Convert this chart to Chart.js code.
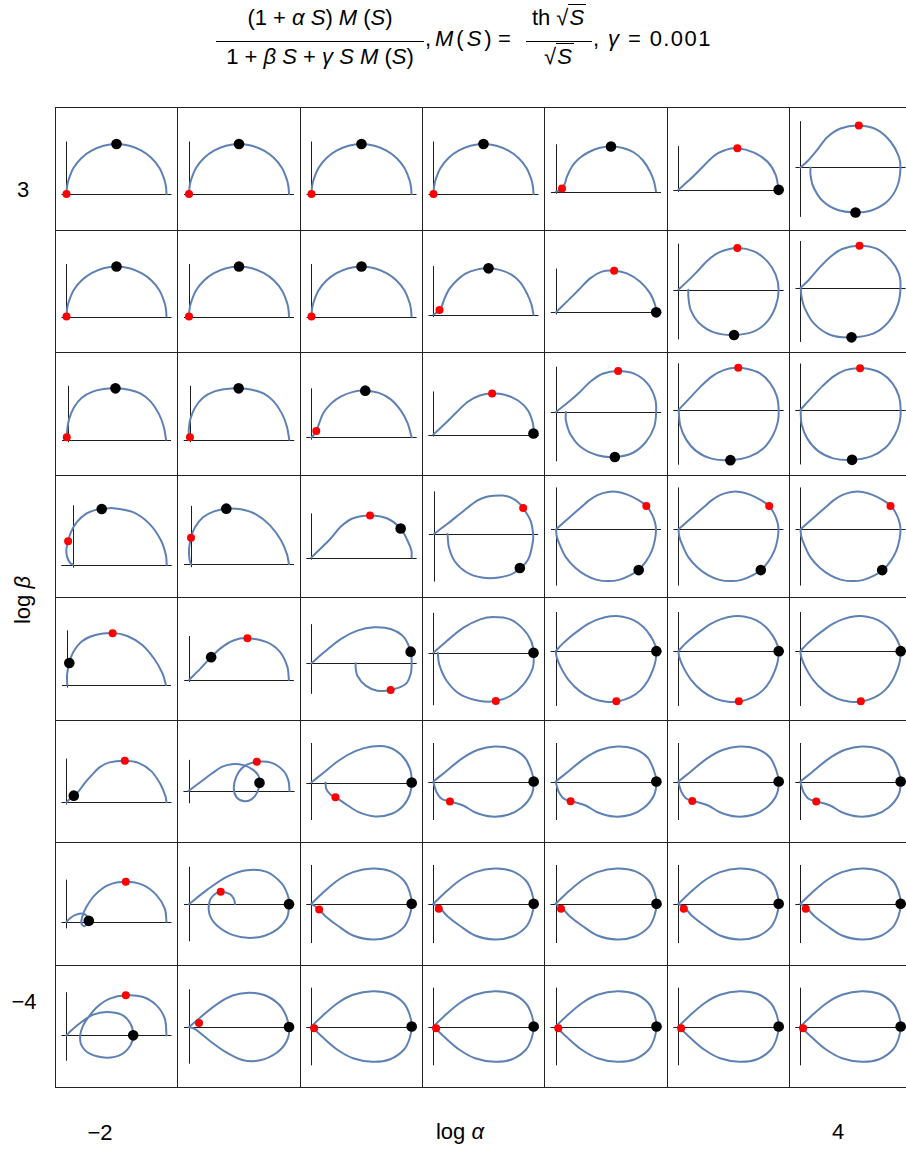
<!DOCTYPE html>
<html>
<head>
<meta charset="utf-8">
<script src="https://cdn.jsdelivr.net/npm/chart.js@4/dist/chart.umd.min.js"></script>
<style>
  html, body { margin: 0; padding: 0; background: #fff; }
  body { position: relative; width: 906px; height: 1150px; overflow: hidden;
         font-family: "Liberation Sans", Arial, sans-serif; color: #000; }
  .cell { position: absolute; box-sizing: border-box; border: 1px solid #222; }
  .cell canvas { position: absolute; left: 0; top: 0; }
  .lbl { position: absolute; font-size: 22px; line-height: 24px; white-space: nowrap;
         transform: translate(-50%, -50%); }
  .frac { position: absolute; top: 0; height: 80px; }
  .frac .num, .frac .den { position: absolute; left: 0; width: 100%; text-align: center;
         font-size: 22px; line-height: 24px; white-space: nowrap; }
  .frac .num { top: 6px; }
  .frac .den { top: 45px; }
  .frac .bar { position: absolute; left: 0; width: 100%; top: 41px; height: 1.4px; background: #000; }
  .txt { position: absolute; top: 27px; font-size: 22px; line-height: 24px; white-space: nowrap; }
  .ov { border-top: 1.4px solid #000; padding: 0 2px 0 1px; }
  i { font-style: italic; }
</style>
</head>
<body>

<div class="frac" style="left:216px;width:208px;">
  <div class="num">(1 + <i>α</i> <i>S</i>) <i>M</i> (<i>S</i>)</div>
  <div class="bar"></div>
  <div class="den">1 + <i>β</i> <i>S</i> + <i>γ</i> <i>S</i> <i>M</i> (<i>S</i>)</div>
</div>
<div class="txt" style="left:425px;">,</div>
<div class="txt" style="left:435px;letter-spacing:3px;"><i>M</i>(<i>S</i>)</div>
<div class="txt" style="left:498px;">=</div>
<div class="frac" style="left:526px;width:66px;">
  <div class="num">th √<span class="ov"><i>S</i></span></div>
  <div class="bar"></div>
  <div class="den">√<span class="ov"><i>S</i></span></div>
</div>
<div class="txt" id="gammaText" style="left:593px;letter-spacing:1.4px;"></div>

<script>
// Columns: log α = -2 … 4, rows: log β = 3 … -4, γ fixed.
const logAlpha = [-2, -1, 0, 1, 2, 3, 4];
const logBeta  = [3, 2, 1, 0, -1, -2, -3, -4];
const gammaLabel = '0.001';
const xTickLabels = ['−2', '4'];   // first and last column
const yTickLabels = ['3', '−4'];   // first and last row
const xAxisTitle = 'log α';
const yAxisTitle = 'log β';

// Each curve: [Re, Im] samples of the frequency response, in the plot's own units.
const halfDisc = [[0,0],[0.005,0.07],[0.02,0.14],[0.07,0.26],[0.15,0.36],[0.25,0.433],[0.37,0.483],[0.5,0.5],
  [0.63,0.483],[0.75,0.433],[0.85,0.36],[0.93,0.26],[0.98,0.14],[0.995,0.07],[1,0]];
const curveR0C4 = [[0,0],[0.035,0.01],[0.06,0.03],[0.085,0.07],[0.11,0.15],[0.16,0.25],[0.23,0.33],
  [0.32,0.39],[0.43,0.435],[0.55,0.45],[0.67,0.435],[0.78,0.39],[0.87,0.31],[0.94,0.2],[0.98,0.1],[1.0,0]];
const curveR0C5 = [[0,0],[0.123,0.11],[0.257,0.243],[0.357,0.34],[0.457,0.393],[0.59,0.417],
  [0.757,0.373],[0.89,0.283],[0.973,0.15],[1.003,0]];
const curveR0C6 = [[0.1,0],[0.1,-0.073],[0.127,-0.19],[0.217,-0.33],[0.367,-0.423],[0.55,-0.45],
  [0.7,-0.433],[0.867,-0.34],[0.967,-0.19],[1.0,-0.007],[0.983,0.11],[0.9,0.26],[0.767,0.377],
  [0.583,0.42],[0.4,0.39],[0.267,0.303],[0.167,0.177],[0.067,0.06],[0,0]];
const curveR1C3 = [[0,0],[0.03,0.02],[0.06,0.047],[0.085,0.09],[0.11,0.16],[0.16,0.26],[0.23,0.34],
  [0.32,0.41],[0.43,0.45],[0.55,0.463],[0.67,0.445],[0.78,0.4],[0.87,0.32],[0.94,0.2],[0.98,0.1],[1.0,0]];
const curveR1C4 = [[0,0],[0.11,0.107],[0.227,0.223],[0.343,0.34],[0.46,0.407],[0.583,0.417],
  [0.71,0.39],[0.843,0.307],[0.943,0.19],[0.993,0.073],[1.003,0]];
const curveR1C5 = [[0.1,0],[0.1,-0.067],[0.123,-0.2],[0.207,-0.333],[0.357,-0.427],[0.557,-0.453],
  [0.757,-0.417],[0.89,-0.317],[0.973,-0.167],[1.003,0],[0.973,0.15],[0.89,0.283],[0.757,0.383],
  [0.59,0.417],[0.407,0.373],[0.29,0.29],[0.19,0.183],[0.09,0.083],[0,0]];
const curveR1C6 = [[0.003,0],[0.01,-0.09],[0.043,-0.207],[0.133,-0.357],[0.3,-0.473],[0.51,-0.497],
  [0.733,-0.457],[0.883,-0.34],[0.973,-0.173],[1.0,0],[0.983,0.143],[0.9,0.277],[0.767,0.387],
  [0.59,0.42],[0.417,0.387],[0.3,0.31],[0.183,0.193],[0.083,0.077],[0,0]];
const curveR2C0 = [[0,0],[-0.008,0.05],[-0.003,0.12],[0.015,0.21],[0.06,0.32],[0.14,0.42],[0.25,0.48],
  [0.36,0.506],[0.48,0.513],[0.61,0.5],[0.73,0.46],[0.83,0.38],[0.91,0.26],[0.96,0.13],[0.983,0]];
const curveR2C1 = [[0,0],[-0.012,0.05],[-0.01,0.12],[0.005,0.21],[0.05,0.32],[0.13,0.42],[0.24,0.48],
  [0.36,0.506],[0.487,0.513],[0.62,0.5],[0.74,0.46],[0.84,0.38],[0.92,0.26],[0.97,0.13],[0.993,0]];
const curveR2C2 = [[0,0],[0.02,0.02],[0.05,0.063],[0.075,0.13],[0.12,0.24],[0.2,0.34],[0.3,0.41],
  [0.42,0.455],[0.543,0.467],[0.68,0.445],[0.8,0.38],[0.9,0.27],[0.97,0.14],[1.01,0]];
const curveR2C3 = [[0,0],[0.117,0.107],[0.233,0.223],[0.35,0.33],[0.467,0.39],[0.59,0.41],
  [0.717,0.397],[0.85,0.34],[0.95,0.24],[1.0,0.107],[1.007,0]];
const curveR2C4 = [[0.1,0],[0.1,-0.083],[0.143,-0.217],[0.25,-0.35],[0.417,-0.433],[0.59,-0.45],
  [0.767,-0.41],[0.9,-0.3],[0.983,-0.15],[1.003,0],[0.993,0.133],[0.917,0.283],[0.783,0.383],
  [0.623,0.41],[0.467,0.383],[0.35,0.307],[0.233,0.193],[0.117,0.093],[0,0]];
const curveR2C5 = [[0.003,0],[0.02,-0.15],[0.08,-0.29],[0.19,-0.41],[0.35,-0.485],[0.55,-0.5],
  [0.75,-0.465],[0.9,-0.38],[1.0,-0.25],[1.05,-0.12],[1.06,0],[1.04,0.14],[0.97,0.27],[0.86,0.37],
  [0.72,0.415],[0.6,0.423],[0.48,0.4],[0.36,0.34],[0.24,0.24],[0.12,0.12],[0,0]];
const curveR2C6 = [[0.003,0],[0.015,-0.15],[0.075,-0.29],[0.185,-0.41],[0.345,-0.485],[0.543,-0.5],
  [0.743,-0.465],[0.893,-0.38],[0.993,-0.25],[1.043,-0.12],[1.053,0],[1.033,0.14],[0.963,0.27],
  [0.853,0.365],[0.713,0.41],[0.593,0.417],[0.473,0.397],[0.353,0.337],[0.233,0.237],[0.113,0.117],[0,0]];
const curveR3C0 = [[0,0],[-0.03,0.02],[-0.06,0.08],[-0.068,0.15],[-0.05,0.237],[-0.02,0.33],
  [0.04,0.43],[0.13,0.51],[0.23,0.55],[0.29,0.558],[0.407,0.567],[0.607,0.527],[0.773,0.41],
  [0.89,0.243],[0.94,0.093],[0.947,0]];
const curveR3C1 = [[0,0],[-0.015,0.05],[-0.02,0.15],[0,0.267],[0.04,0.37],[0.12,0.47],[0.23,0.53],
  [0.353,0.557],[0.5,0.55],[0.65,0.5],[0.79,0.39],[0.9,0.24],[0.96,0.1],[0.98,0]];
const curveR3C2 = [[0,0],[0.093,0.09],[0.193,0.19],[0.293,0.307],[0.41,0.39],[0.587,0.42],
  [0.76,0.39],[0.893,0.29],[0.96,0.173],[1.0,0.073],[1.003,0]];
const curveR3C3 = [[0.137,0],[0.15,-0.13],[0.21,-0.275],[0.33,-0.385],[0.48,-0.435],[0.65,-0.435],
  [0.8,-0.39],[0.94,-0.26],[0.99,-0.08],[0.993,0],[0.967,0.133],[0.893,0.26],[0.84,0.32],
  [0.767,0.367],[0.69,0.385],[0.6,0.383],[0.52,0.37],[0.433,0.333],[0.3,0.233],[0.133,0.1],[0,0]];
const curveR3C5 = [[0,0],[0.008,-0.07],[0.04,-0.16],[0.1,-0.28],[0.19,-0.38],[0.3,-0.46],[0.41,-0.505],
  [0.523,-0.517],[0.63,-0.505],[0.74,-0.46],[0.823,-0.407],[0.9,-0.32],[0.96,-0.21],[0.99,-0.1],[1.0,0],
  [0.99,0.07],[0.96,0.15],[0.907,0.233],[0.82,0.295],[0.72,0.345],[0.62,0.375],[0.52,0.375],
  [0.42,0.345],[0.33,0.29],[0.257,0.227],[0.123,0.11],[0.06,0.055],[0,0]];
const curveR4C0 = [[0,0],[-0.003,0.1],[0.02,0.22],[0.06,0.33],[0.15,0.44],[0.28,0.5],[0.453,0.52],
  [0.6,0.49],[0.75,0.4],[0.87,0.26],[0.95,0.12],[0.987,0]];
const curveR4C1 = [[0,0],[0.11,0.11],[0.22,0.227],[0.32,0.32],[0.443,0.393],[0.583,0.417],
  [0.777,0.377],[0.91,0.277],[0.983,0.127],[0.997,0]];
const curveR4C2 = [[0.443,0],[0.443,-0.04],[0.46,-0.123],[0.543,-0.223],[0.66,-0.273],[0.793,-0.267],
  [0.943,-0.207],[0.993,-0.107],[1.003,0],[0.993,0.117],[0.927,0.26],[0.793,0.343],[0.627,0.36],
  [0.46,0.327],[0.293,0.243],[0.127,0.11],[0,0]];
const curveR4C3 = [[0.043,0],[0.057,-0.117],[0.133,-0.283],[0.267,-0.417],[0.467,-0.483],
  [0.623,-0.483],[0.767,-0.433],[0.9,-0.317],[0.993,-0.15],[1.0,0],[0.977,0.117],[0.9,0.233],
  [0.767,0.333],[0.6,0.357],[0.467,0.333],[0.3,0.25],[0.133,0.117],[0,0]];
const curveR4C5 = [[0,0],[0.01,-0.06],[0.05,-0.16],[0.13,-0.29],[0.24,-0.4],[0.37,-0.475],[0.5,-0.505],
  [0.63,-0.5],[0.75,-0.46],[0.85,-0.39],[0.925,-0.29],[0.975,-0.18],[1.0,-0.09],[1.007,0],
  [0.995,0.06],[0.95,0.15],[0.88,0.24],[0.78,0.31],[0.67,0.345],[0.55,0.348],[0.43,0.32],
  [0.32,0.27],[0.22,0.2],[0.13,0.13],[0.06,0.065],[0,0]];
const curveR5C0 = [[0,0],[0.03,0.03],[0.073,0.067],[0.12,0.11],[0.18,0.19],[0.25,0.27],[0.33,0.35],
  [0.43,0.4],[0.583,0.417],[0.72,0.395],[0.85,0.31],[0.94,0.18],[0.99,0.06],[1.0,0]];
const curveR5C1 = [[0,0],[0.1,0.073],[0.233,0.173],[0.333,0.24],[0.433,0.267],[0.55,0.257],
  [0.65,0.207],[0.7,0.15],[0.71,0.08],[0.69,-0.01],[0.633,-0.083],[0.56,-0.103],[0.483,-0.067],
  [0.453,0.023],[0.477,0.14],[0.55,0.24],[0.683,0.29],[0.833,0.28],[0.95,0.2],[1.0,0.1],[1.01,0]];
const curveR5C2 = [[0.143,0],[0.15,-0.063],[0.193,-0.12],[0.243,-0.147],[0.343,-0.213],
  [0.477,-0.297],[0.643,-0.34],[0.81,-0.313],[0.927,-0.23],[0.993,-0.113],[1.01,0],[0.993,0.137],
  [0.91,0.27],[0.777,0.353],[0.61,0.36],[0.443,0.313],[0.277,0.22],[0.11,0.087],[0,0]];
const curveR5C3 = [[0,0],[0.01,-0.04],[0.033,-0.107],[0.083,-0.173],[0.167,-0.2],[0.3,-0.24],
  [0.417,-0.307],[0.583,-0.35],[0.75,-0.333],[0.883,-0.263],[0.983,-0.14],[1.007,0],[0.983,0.11],
  [0.917,0.243],[0.783,0.327],[0.617,0.35],[0.45,0.317],[0.283,0.227],[0.117,0.093],[0,0]];
const curveR6C0 = [[1.0,0],[0.983,0.133],[0.9,0.267],[0.767,0.367],[0.593,0.4],[0.417,0.367],
  [0.283,0.267],[0.2,0.15],[0.157,0.05],[0.15,-0.017],[0.183,-0.043],[0.223,0.01],[0.207,0.057],
  [0.15,0.083],[0.083,0.067],[0.033,0.033],[0,0]];
const curveR6C1 = [[0,0],[0.177,0.14],[0.377,0.273],[0.577,0.34],[0.777,0.323],[0.927,0.207],
  [0.99,0.083],[1.0,0],[0.977,-0.143],[0.843,-0.277],[0.643,-0.337],[0.443,-0.31],[0.277,-0.21],
  [0.203,-0.093],[0.21,0.04],[0.267,0.107],[0.317,0.123],[0.41,0.1],[0.45,0.05],[0.46,0]];
const curveR6C2 = [[0,0],[0.106,0.1],[0.263,0.233],[0.42,0.317],[0.617,0.353],[0.794,0.327],
  [0.931,0.233],[0.99,0.117],[1.01,0],[0.99,-0.117],[0.931,-0.233],[0.794,-0.327],[0.617,-0.357],
  [0.42,-0.317],[0.263,-0.217],[0.145,-0.127],[0.079,-0.057],[0.028,-0.017],[0,0]];
const curveR7C0 = [[1.0,0],[0.983,0.167],[0.9,0.3],[0.767,0.383],[0.593,0.4],[0.433,0.367],
  [0.317,0.293],[0.227,0.193],[0.167,0.1],[0.137,0],[0.15,-0.1],[0.233,-0.183],[0.4,-0.223],
  [0.55,-0.19],[0.64,-0.1],[0.667,0],[0.64,0.117],[0.55,0.207],[0.4,0.233],[0.267,0.207],
  [0.15,0.133],[0.05,0.05],[0,0]];
const curveR7C1 = [[0,0],[0.11,0.093],[0.277,0.227],[0.443,0.317],[0.61,0.343],[0.777,0.31],
  [0.927,0.193],[1.0,0],[0.977,-0.14],[0.877,-0.257],[0.71,-0.333],[0.543,-0.333],[0.377,-0.257],
  [0.21,-0.14],[0.1,-0.05],[0.05,-0.015],[0,0]];
const curveR7C2 = [[0,0],[0.106,0.1],[0.263,0.233],[0.42,0.317],[0.617,0.353],[0.794,0.327],
  [0.931,0.233],[0.99,0.117],[1.01,0],[0.99,-0.117],[0.931,-0.233],[0.794,-0.327],[0.617,-0.353],
  [0.42,-0.317],[0.263,-0.233],[0.106,-0.1],[0,0]];

// Which curve sits in each cell (rows = log β, columns = log α).
const curveGrid = [
  [halfDisc, halfDisc, halfDisc, halfDisc, curveR0C4, curveR0C5, curveR0C6],
  [halfDisc, halfDisc, halfDisc, curveR1C3, curveR1C4, curveR1C5, curveR1C6],
  [curveR2C0, curveR2C1, curveR2C2, curveR2C3, curveR2C4, curveR2C5, curveR2C6],
  [curveR3C0, curveR3C1, curveR3C2, curveR3C3, curveR3C5, curveR3C5, curveR3C5],
  [curveR4C0, curveR4C1, curveR4C2, curveR4C3, curveR4C5, curveR4C5, curveR4C5],
  [curveR5C0, curveR5C1, curveR5C2, curveR5C3, curveR5C3, curveR5C3, curveR5C3],
  [curveR6C0, curveR6C1, curveR6C2, curveR6C2, curveR6C2, curveR6C2, curveR6C2],
  [curveR7C0, curveR7C1, curveR7C2, curveR7C2, curveR7C2, curveR7C2, curveR7C2]
];

// Red marker per cell.
const redMarks = [
  [[0,0],[0,0],[0,0],[0,0],[0.06,0.03],[0.59,0.417],[0.583,0.42]],
  [[0,0],[0,0],[0,0],[0.06,0.047],[0.583,0.417],[0.59,0.417],[0.59,0.42]],
  [[-0.01,0.023],[0,0.023],[0.05,0.063],[0.59,0.41],[0.623,0.41],[0.633,0.423],[0.627,0.417]],
  [[-0.05,0.237],[0,0.267],[0.587,0.42],[0.893,0.26],[0.903,0.233],[0.907,0.233],[0.9,0.233]],
  [[0.453,0.517],[0.583,0.417],[0.793,-0.267],[0.623,-0.483],[0.607,-0.5],[0.607,-0.5],[0.607,-0.5]],
  [[0.583,0.417],[0.683,0.29],[0.243,-0.147],[0.167,-0.2],[0.15,-0.197],[0.14,-0.195],[0.16,-0.2]],
  [[0.593,0.4],[0.317,0.123],[0.079,-0.057],[0.055,-0.05],[0.055,-0.05],[0.055,-0.05],[0.055,-0.05]],
  [[0.593,0.4],[0.1,0.04],[0.028,-0.017],[0.028,-0.017],[0.028,-0.017],[0.028,-0.017],[0.028,-0.017]]
];
// Black marker per cell.
const blackMarks = [
  [[0.5,0.5],[0.5,0.5],[0.5,0.5],[0.5,0.5],[0.55,0.45],[1.003,0],[0.55,-0.45]],
  [[0.5,0.5],[0.5,0.5],[0.5,0.5],[0.55,0.463],[1.003,0],[0.557,-0.453],[0.51,-0.497]],
  [[0.477,0.513],[0.487,0.513],[0.543,0.467],[1.005,0.01],[0.59,-0.45],[0.55,-0.5],[0.543,-0.5]],
  [[0.29,0.558],[0.353,0.557],[0.893,0.29],[0.86,-0.34],[0.827,-0.407],[0.823,-0.407],[0.817,-0.407]],
  [[0.02,0.22],[0.22,0.227],[0.993,0.117],[1.0,0],[1.007,0],[1.007,0],[1.007,0]],
  [[0.073,0.067],[0.71,0.08],[1.01,0],[1.007,0],[1.007,0],[1.007,0],[1.007,0]],
  [[0.223,0.01],[1.0,0],[1.01,0],[1.01,0],[1.01,0],[1.01,0],[1.01,0]],
  [[0.667,0],[1.0,0],[1.01,0],[1.01,0],[1.01,0],[1.01,0],[1.01,0]]
];

// Layout constants
const GRID_LEFT = 55, GRID_TOP = 107, CELL_W = 122.33, CELL_H = 122.5;
const PX_PER_UNIT = 100;     // same drawing scale in every panel
const RANGE_PAD = 0.05;      // plot range padding, fraction of the data span
const CURVE_COLOR = '#5e81b5';

document.getElementById('gammaText').innerHTML = ', <i>γ</i> = ' + gammaLabel;

// Axes through the origin spanning the whole plot range.
const originAxes = {
  id: 'originAxes',
  beforeDatasetsDraw(chart) {
    const { ctx, chartArea: a, scales: { x, y } } = chart;
    const px = Math.round(x.getPixelForValue(0)) + 0.5;
    const py = Math.round(y.getPixelForValue(0)) + 0.5;
    ctx.save();
    ctx.strokeStyle = '#1c1c1c';
    ctx.lineWidth = 1;
    ctx.beginPath();
    ctx.moveTo(a.left, py); ctx.lineTo(a.right, py);
    ctx.moveTo(px, a.top); ctx.lineTo(px, a.bottom);
    ctx.stroke();
    ctx.restore();
  }
};

const toXY = ([x, y]) => ({ x, y });

function addPanel(r, c) {
  const L = Math.round(GRID_LEFT + c * CELL_W), R = Math.round(GRID_LEFT + (c + 1) * CELL_W);
  const T = Math.round(GRID_TOP + r * CELL_H), B = Math.round(GRID_TOP + (r + 1) * CELL_H);
  const cell = document.createElement('div');
  cell.className = 'cell';
  Object.assign(cell.style, { left: L + 'px', top: T + 'px', width: (R - L + 1) + 'px', height: (B - T + 1) + 'px' });
  const cw = R - L - 1, ch = B - T - 1;
  const canvas = document.createElement('canvas');
  canvas.width = cw; canvas.height = ch;
  canvas.style.width = cw + 'px'; canvas.style.height = ch + 'px';
  cell.appendChild(canvas);
  document.body.appendChild(cell);

  const curve = curveGrid[r][c];
  const xs = curve.map(p => p[0]), ys = curve.map(p => p[1]);
  let xmin = Math.min(0, ...xs), xmax = Math.max(0, ...xs);
  let ymin = Math.min(0, ...ys), ymax = Math.max(0, ...ys);
  const xr = xmax - xmin, yr = ymax - ymin;
  xmin -= RANGE_PAD * xr; xmax += RANGE_PAD * xr;
  ymin -= RANGE_PAD * yr; ymax += RANGE_PAD * yr;
  const w = (xmax - xmin) * PX_PER_UNIT, h = (ymax - ymin) * PX_PER_UNIT;
  const padX = (cw - w) / 2, padY = (ch - h) / 2;

  new Chart(canvas, {
    type: 'scatter',
    data: {
      datasets: [
        { data: [toXY(blackMarks[r][c])], pointRadius: 5.3, pointBackgroundColor: '#000',
          pointBorderWidth: 0, showLine: false, clip: false },
        { data: [toXY(redMarks[r][c])], pointRadius: 4, pointBackgroundColor: '#ff0000',
          pointBorderWidth: 0, showLine: false, clip: false },
        { data: curve.map(toXY), showLine: true, borderColor: CURVE_COLOR, borderWidth: 2,
          pointRadius: 0, tension: 0.33, fill: false, borderJoinStyle: 'round', borderCapStyle: 'round' }
      ]
    },
    options: {
      responsive: false, animation: false, events: [], devicePixelRatio: 1,
      layout: { padding: { left: padX, right: padX, top: padY, bottom: padY } },
      scales: {
        x: { type: 'linear', min: xmin, max: xmax, display: false },
        y: { type: 'linear', min: ymin, max: ymax, display: false }
      },
      plugins: { legend: { display: false }, tooltip: { enabled: false } }
    },
    plugins: [originAxes]
  });
}

for (let r = 0; r < logBeta.length; r++)
  for (let c = 0; c < logAlpha.length; c++) addPanel(r, c);

// Outer labels
function label(text, x, y, extra) {
  const d = document.createElement('div');
  d.className = 'lbl';
  d.innerHTML = text;
  d.style.left = x + 'px'; d.style.top = y + 'px';
  if (extra) d.style.transform = 'translate(-50%, -50%) ' + extra;
  document.body.appendChild(d);
}
label(yTickLabels[0], 23, 190);
label(yTickLabels[1], 24, 1002);
label(yAxisTitle.replace('β', '<i>β</i>'), 23, 600, 'rotate(-90deg)');
label(xTickLabels[0], 100, 1133);
label(xAxisTitle.replace('α', '<i>α</i>'), 460, 1132);
label(xTickLabels[1], 838, 1132);
</script>
</body>
</html>
